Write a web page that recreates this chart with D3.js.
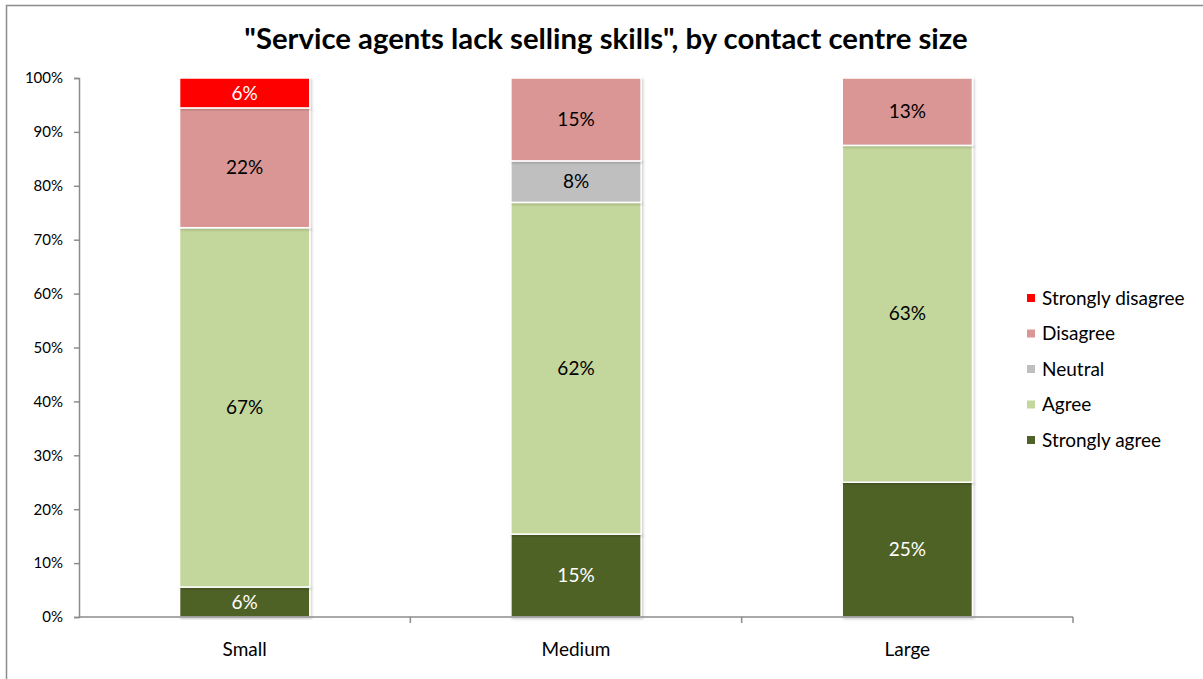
<!DOCTYPE html>
<html>
<head>
<meta charset="utf-8">
<script src="https://cdn.jsdelivr.net/npm/d3@7/dist/d3.min.js"></script>
<style>
  html, body { margin: 0; padding: 0; background: #fff; }
  svg { display: block; font-family: Lato, "Open Sans", sans-serif; }
</style>
</head>
<body>
<svg id="chart" width="1203" height="679"></svg>
<script>
// Contact centre sizes and the share of respondents per answer (fractions)
const categories = ["Small", "Medium", "Large"];
const seriesNames = ["Strongly agree", "Agree", "Neutral", "Disagree", "Strongly disagree"];
const stronglyAgree    = [1 / 18, 2 / 13, 2 / 8];
const agree            = [12 / 18, 8 / 13, 5 / 8];
const neutral          = [0, 1 / 13, 0];
const disagree         = [4 / 18, 2 / 13, 1 / 8];
const stronglyDisagree = [1 / 18, 0, 0];
const yTicks = [0, 0.1, 0.2, 0.3, 0.4, 0.5, 0.6, 0.7, 0.8, 0.9, 1.0];
const title = "\"Service agents lack selling skills\", by contact centre size";

const colors = {
  "Strongly agree": "#4f6228",
  "Agree": "#c3d69b",
  "Neutral": "#bfbfbf",
  "Disagree": "#d99694",
  "Strongly disagree": "#ff0000"
};
const labelColors = {
  "Strongly agree": "#ffffff",
  "Agree": "#000000",
  "Neutral": "#000000",
  "Disagree": "#000000",
  "Strongly disagree": "#ffffff"
};

const valuesBySeries = {
  "Strongly agree": stronglyAgree,
  "Agree": agree,
  "Neutral": neutral,
  "Disagree": disagree,
  "Strongly disagree": stronglyDisagree
};
const rows = categories.map((c, i) => {
  const r = { category: c };
  seriesNames.forEach(s => { r[s] = valuesBySeries[s][i]; });
  return r;
});

const svg = d3.select("#chart");
const margin = { left: 79, top: 78 };
const plotRight = 1073, plotBottom = 617;

// Outer chart frame
svg.append("rect")
  .attr("x", 6.5).attr("y", 5.5)
  .attr("width", 1210).attr("height", 690)
  .attr("fill", "#fff")
  .attr("stroke", "#8c8c8c").attr("stroke-width", 1.5);

// Title
svg.append("text")
  .attr("x", 606).attr("y", 49)
  .attr("text-anchor", "middle")
  .attr("font-size", 29.3).attr("font-weight", "bold")
  .attr("fill", "#000")
  .text(title);

const x = d3.scaleBand()
  .domain(categories)
  .range([margin.left, plotRight])
  .paddingInner(0.607).paddingOuter(0.3035);

const y = d3.scaleLinear().domain([0, 1]).range([plotBottom, margin.top]);

const stacked = d3.stack().keys(seriesNames)(rows);

// Subtle drop shadow under the bars
const defs = svg.append("defs");
const f = defs.append("filter").attr("id", "shadow")
  .attr("x", "-10%").attr("y", "-10%").attr("width", "120%").attr("height", "120%");
f.append("feDropShadow").attr("dx", 1.5).attr("dy", 1.5).attr("stdDeviation", 1.2)
  .attr("flood-color", "#000").attr("flood-opacity", 0.18);

const layers = svg.append("g").selectAll("g")
  .data(stacked).join("g")
  .attr("fill", d => colors[d.key]);

layers.selectAll("rect")
  .data(d => d.map(p => ({ key: d.key, p })).filter(d => d.p[1] - d.p[0] > 0))
  .join("rect")
  .attr("x", d => x(d.p.data.category))
  .attr("y", d => y(d.p[1]))
  .attr("width", x.bandwidth())
  .attr("height", d => y(d.p[0]) - y(d.p[1]))
  .attr("stroke", "#fff").attr("stroke-width", 1.5)
  .attr("filter", "url(#shadow)");

// Value labels centred in each segment
const labels = svg.append("g");
stacked.forEach(layer => {
  layer.forEach(p => {
    const v = p[1] - p[0];
    if (v <= 0) return;
    labels.append("text")
      .attr("x", x(p.data.category) + x.bandwidth() / 2)
      .attr("y", (y(p[0]) + y(p[1])) / 2)
      .attr("dy", "0.35em")
      .attr("text-anchor", "middle")
      .attr("font-size", 19)
      .attr("fill", labelColors[layer.key])
      .text(d3.format(".0%")(v));
  });
});

// Y axis
const yAxis = svg.append("g")
  .attr("transform", `translate(${margin.left},0)`)
  .call(d3.axisLeft(y).tickValues(yTicks).tickFormat(d3.format(".0%")).tickSize(5).tickPadding(11));
yAxis.select(".domain").attr("stroke", "#8c8c8c").attr("stroke-width", 1.5);
yAxis.selectAll(".tick line").attr("stroke", "#8c8c8c").attr("stroke-width", 1.5);
yAxis.selectAll(".tick text").attr("font-size", 15).attr("fill", "#000")
  .attr("font-family", "Lato, 'Open Sans', sans-serif");

// X axis line with tick marks between categories
const xAxisG = svg.append("g");
xAxisG.append("line")
  .attr("x1", margin.left).attr("x2", plotRight)
  .attr("y1", plotBottom).attr("y2", plotBottom)
  .attr("stroke", "#8c8c8c").attr("stroke-width", 1.5);
const boundaries = categories.map((c, i) => margin.left + (i + 1) * (plotRight - margin.left) / categories.length);
xAxisG.selectAll("line.tick")
  .data(boundaries).join("line").attr("class", "tick")
  .attr("x1", d => d).attr("x2", d => d)
  .attr("y1", plotBottom).attr("y2", plotBottom + 6)
  .attr("stroke", "#8c8c8c").attr("stroke-width", 1.5);
xAxisG.selectAll("text")
  .data(categories).join("text")
  .attr("x", d => x(d) + x.bandwidth() / 2)
  .attr("y", 656)
  .attr("text-anchor", "middle")
  .attr("font-size", 19).attr("fill", "#000")
  .text(d => d);

// Legend (top entry is the top of the stack)
const legendItems = seriesNames.slice().reverse();
const legend = svg.append("g").attr("transform", "translate(1027,298)");
legendItems.forEach((name, i) => {
  const g = legend.append("g").attr("transform", `translate(0,${i * 35.5})`);
  g.append("rect").attr("x", 0).attr("y", -4).attr("width", 8).attr("height", 8)
    .attr("fill", colors[name]);
  g.append("text").attr("x", 15).attr("y", 0).attr("dy", "0.35em")
    .attr("font-size", 19).attr("fill", "#000").text(name);
});
</script>
</body>
</html>
